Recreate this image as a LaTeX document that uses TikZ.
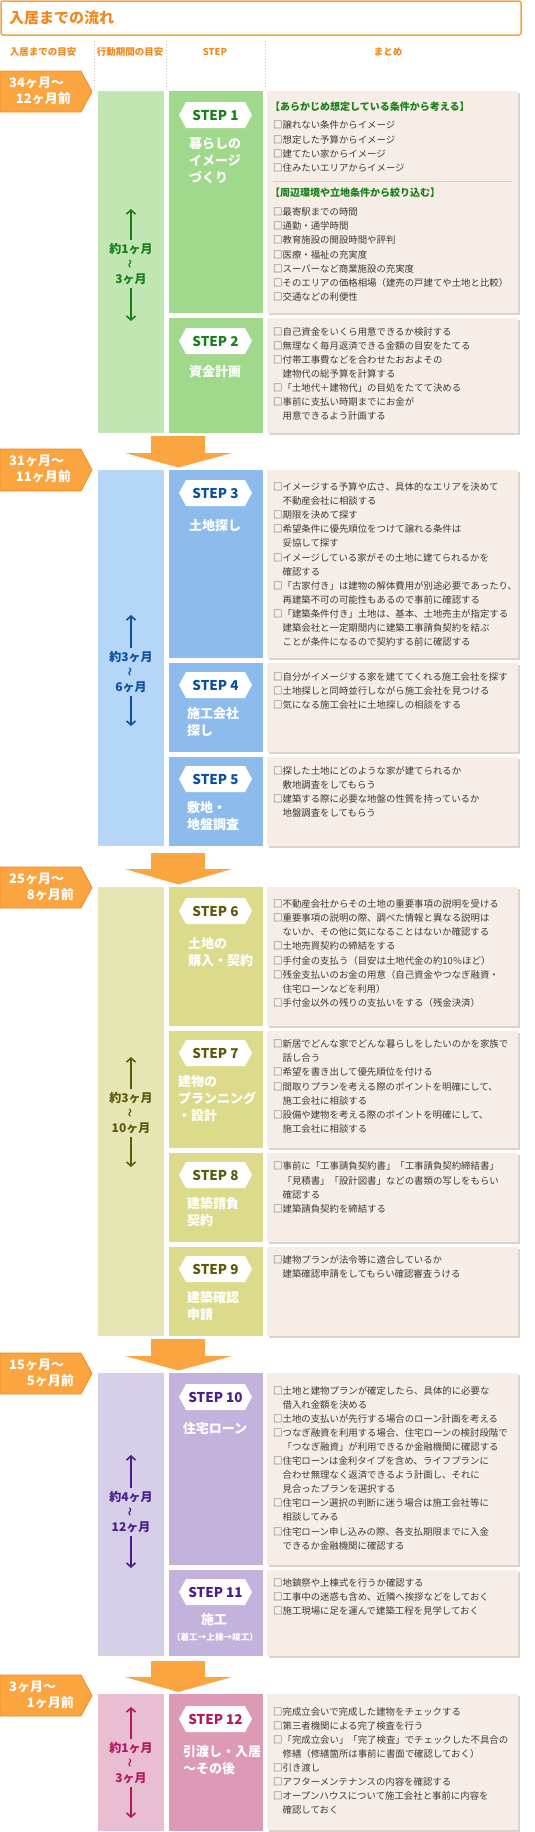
\documentclass[tikz,border=0pt]{standalone}
\usepackage{fontspec}
\setmainfont{Noto Sans CJK JP}
\usetikzlibrary{arrows.meta}

\definecolor{hdorange}{HTML}{F08A1C}
\definecolor{hdframe}{HTML}{F7A541}
\definecolor{tagorange}{HTML}{FBA540}
\definecolor{tagedge}{HTML}{F28A1F}
\definecolor{sumbg}{HTML}{F6EEE6}
\definecolor{sumshade}{HTML}{DCD4CB}
\definecolor{sumtext}{HTML}{3A3A3A}
\definecolor{sepgray}{HTML}{D8CFC5}
\definecolor{grper}{HTML}{C1E6B4}
\definecolor{grstep}{HTML}{A0D88C}
\definecolor{grtext}{HTML}{17801A}
\definecolor{blper}{HTML}{B5D6F7}
\definecolor{blstep}{HTML}{8DBCEC}
\definecolor{bltext}{HTML}{0C4EA2}
\definecolor{olper}{HTML}{E6E6B4}
\definecolor{olstep}{HTML}{DCDB8C}
\definecolor{oltext}{HTML}{5E5A0C}
\definecolor{puper}{HTML}{D7CEE7}
\definecolor{pustep}{HTML}{C3B3DC}
\definecolor{putext}{HTML}{4A1D8C}
\definecolor{piper}{HTML}{E9BED2}
\definecolor{pistep}{HTML}{DD9AB6}
\definecolor{pitext}{HTML}{B2185F}

\tikzset{
  ttlhead/.style={text=hdorange, font=\fontsize{15}{15}\selectfont\bfseries, anchor=west, inner sep=0pt},
  colhead/.style={text=hdorange, font=\fontsize{9.5}{9.5}\selectfont\bfseries, inner sep=0pt},
  tagbox/.style={fill=tagorange, draw=tagedge, line width=0.8pt},
  tagtxt/.style={text=white, font=\fontsize{13}{13}\selectfont\bfseries, inner sep=0pt},
  bigarrow/.style={fill=tagorange},
  badgetxt/.style={font=\fontsize{13.5}{13.5}\selectfont\bfseries, inner sep=0pt},
  steptitle/.style={text=white, font=\fontsize{13}{17}\selectfont\bfseries, align=left, inner sep=0pt},
  sumtxt/.style={text=sumtext, font=\fontsize{9.4}{14.1}\selectfont, align=left, anchor=west, inner sep=0pt},
  sumhead/.style={text=grtext, font=\fontsize{10}{10}\selectfont\bfseries, anchor=west, inner sep=0pt},
  periodtxt/.style={font=\fontsize{12}{15}\selectfont\bfseries, align=center, inner sep=3pt},
  parrow/.style={line width=1.6pt, -{Straight Barb[length=4pt,width=9pt]}},
}

\newcommand\indt{\phantom{□}}
\newcommand\waveglyph{{\fontsize{9}{9}\selectfont\rotatebox{90}{〜}}}
% white hexagon with STEP label: #1 name, #2 centre y, #3 text, #4 colour
\newcommand\stepbadge[4]{%
  \fill[white] (179,#2) -- (186,#2-13) -- (245,#2-13) -- (252,#2) -- (245,#2+13) -- (186,#2+13) -- cycle;
  \node[badgetxt, text=#4] (#1) at (215.5,#2) {#3};}

\begin{document}
\begin{tikzpicture}[x=1pt,y=-1pt]
\useasboundingbox (0,0) rectangle (535,1832);

% title and column heads
\draw[hdframe, line width=1.5pt, rounded corners=2pt, fill=white] (1,1) rectangle (521,35);
\node[ttlhead] (title) at (9,18) {入居までの流れ};
\node[colhead] (hmove) at (43,52) {入居までの目安};
\node[colhead] (hperiod) at (130,52) {行動期間の目安};
\node[colhead] (hstep) at (215,52) {STEP};
\node[colhead] (hsum) at (388,52) {まとめ};
\draw[gray!45, dotted, line width=1pt] (94,41) -- (94,90);
\draw[gray!45, dotted, line width=1pt] (166,41) -- (166,90);
\draw[gray!45, dotted, line width=1pt] (265,41) -- (265,90);

% ---------- phase 1 ----------
\filldraw[tagbox] (0,71) -- (81,71) -- (92,91.5) -- (81,112) -- (0,112) -- cycle;
\node[tagtxt, anchor=west] (tag1a) at (9,83) {34ヶ月〜};
\node[tagtxt, anchor=east] (tag1b) at (71,99) {12ヶ月前};
\fill[grper] (98,91) rectangle (164,433);
\node[periodtxt, text=grtext] (per1) at (131,264) {約1ヶ月\\\waveglyph\\3ヶ月};
\coordinate (per1top) at (131,209);
\coordinate (per1bot) at (131,321);
\draw[parrow, grtext] (per1) -- (per1top);
\draw[parrow, grtext] (per1) -- (per1bot);

\fill[grstep] (169,91) rectangle (263,313);
\stepbadge{st1}{115}{STEP 1}{grtext}
\node[steptitle, anchor=west] (ttl1) at (189,160.5) {暮らしの\\イメージ\\づくり};
\fill[sumshade] (268.5,92.5) rectangle (519.5,314.5);
\fill[sumbg] (267,91) rectangle (518,313);
\node[sumhead] (hd1a) at (270,107) {【あらかじめ想定している条件から考える】};
\node[sumtxt] (sum1a) at (273,146.5) {□譲れない条件からイメージ\\□想定した予算からイメージ\\□建てたい家からイメージ\\□住みたいエリアからイメージ};
\draw[sepgray, line width=0.8pt] (273,181) -- (512,181);
\node[sumhead] (hd1b) at (270,193) {【周辺環境や立地条件から絞り込む】};
\node[sumtxt] (sum1b) at (273,254.5) {□最寄駅までの時間\\□通勤・通学時間\\□教育施設の開設時間や評判\\□医療・福祉の充実度\\□スーパーなど商業施設の充実度\\□そのエリアの価格相場（建売の戸建てや土地と比較）\\□交通などの利便性};

\fill[grstep] (169,318) rectangle (263,433);
\stepbadge{st2}{341}{STEP 2}{grtext}
\node[steptitle] (ttl2) at (215,372) {資金計画};
\fill[sumshade] (268.5,319.5) rectangle (519.5,434.5);
\fill[sumbg] (267,318) rectangle (518,433);
\node[sumtxt] (sum2) at (273,374) {□自己資金をいくら用意できるか検討する\\□無理なく毎月返済できる金額の目安をたてる\\□付帯工事費などを合わせたおおよその\\\indt 建物代の総予算を計算する\\□「土地代＋建物代」の目処をたてて決める\\□事前に支払い時期までにお金が\\\indt 用意できるよう計画する};

\fill[bigarrow] (151,436) -- (205,436) -- (205,453) -- (232,453) -- (178.5,467.5) -- (125,453) -- (151,453) -- cycle;

% ---------- phase 2 ----------
\filldraw[tagbox] (0,449) -- (81,449) -- (92,470) -- (81,491) -- (0,491) -- cycle;
\node[tagtxt, anchor=west] (tag2a) at (9,461) {31ヶ月〜};
\node[tagtxt, anchor=east] (tag2b) at (71,477) {11ヶ月前};
\fill[blper] (98,470) rectangle (164,846);
\node[periodtxt, text=bltext] (per2) at (131,672) {約3ヶ月\\\waveglyph\\6ヶ月};
\coordinate (per2top) at (131,615);
\coordinate (per2bot) at (131,726);
\draw[parrow, bltext] (per2) -- (per2top);
\draw[parrow, bltext] (per2) -- (per2bot);

\fill[blstep] (169,470) rectangle (263,658);
\stepbadge{st3}{493}{STEP 3}{bltext}
\node[steptitle] (ttl3) at (215,526) {土地探し};
\fill[sumshade] (268.5,471.5) rectangle (519.5,659.5);
\fill[sumbg] (267,470) rectangle (518,658);
\node[sumtxt] (sum3) at (273,564.5) {□イメージする予算や広さ、具体的なエリアを決めて\\\indt 不動産会社に相談する\\□期限を決めて探す\\□希望条件に優先順位をつけて譲れる条件は\\\indt 妥協して探す\\□イメージしている家がその土地に建てられるかを\\\indt 確認する\\□「古家付き」は建物の解体費用が別途必要であったり、\\\indt 再建築不可の可能性もあるので事前に確認する\\□「建築条件付き」土地は、基本、土地売主が指定する\\\indt 建築会社と一定期間内に建築工事請負契約を結ぶ\\\indt ことが条件になるので契約する前に確認する};

\fill[blstep] (169,663) rectangle (263,752);
\stepbadge{st4}{685}{STEP 4}{bltext}
\node[steptitle, anchor=west] (ttl4) at (187,722.5) {施工会社\\探し};
\fill[sumshade] (268.5,664.5) rectangle (519.5,753.5);
\fill[sumbg] (267,663) rectangle (518,752);
\node[sumtxt] (sum4) at (273,691) {□自分がイメージする家を建ててくれる施工会社を探す\\□土地探しと同時並行しながら施工会社を見つける\\□気になる施工会社に土地探しの相談をする};

\fill[blstep] (169,757) rectangle (263,846);
\stepbadge{st5}{779}{STEP 5}{bltext}
\node[steptitle, anchor=west] (ttl5) at (187,816) {敷地・\\地盤調査};
\fill[sumshade] (268.5,758.5) rectangle (519.5,847.5);
\fill[sumbg] (267,757) rectangle (518,846);
\node[sumtxt] (sum5) at (273,792) {□探した土地にどのような家が建てられるか\\\indt 敷地調査をしてもらう\\□建築する際に必要な地盤の性質を持っているか\\\indt 地盤調査をしてもらう};

\fill[bigarrow] (151,853) -- (205,853) -- (205,869) -- (232,869) -- (178.5,884.5) -- (125,869) -- (151,869) -- cycle;

% ---------- phase 3 ----------
\filldraw[tagbox] (0,867) -- (81,867) -- (92,887.5) -- (81,908) -- (0,908) -- cycle;
\node[tagtxt, anchor=west] (tag3a) at (9,879) {25ヶ月〜};
\node[tagtxt, anchor=east] (tag3b) at (74,895) {8ヶ月前};
\fill[olper] (98,887) rectangle (164,1336);
\node[periodtxt, text=oltext] (per3) at (131,1113) {約3ヶ月\\\waveglyph\\10ヶ月};
\coordinate (per3top) at (131,1057);
\coordinate (per3bot) at (131,1167);
\draw[parrow, oltext] (per3) -- (per3top);
\draw[parrow, oltext] (per3) -- (per3bot);

\fill[olstep] (169,887) rectangle (263,1026);
\stepbadge{st6}{911}{STEP 6}{oltext}
\node[steptitle, anchor=west] (ttl6) at (188,952.5) {土地の\\購入・契約};
\fill[sumshade] (268.5,888.5) rectangle (519.5,1027.5);
\fill[sumbg] (267,887) rectangle (518,1026);
\node[sumtxt] (sum6) at (273,953.5) {□不動産会社からその土地の重要事項の説明を受ける\\□重要事項の説明の際、調べた情報と異なる説明は\\\indt ないか、その他に気になることはないか確認する\\□土地売買契約の締結をする\\□手付金の支払う（目安は土地代金の約10％ほど）\\□残金支払いのお金の用意（自己資金やつなぎ融資・\\\indt 住宅ローンなどを利用）\\□手付金以外の残りの支払いをする（残金決済）};

\fill[olstep] (169,1031) rectangle (263,1148);
\stepbadge{st7}{1053}{STEP 7}{oltext}
\node[steptitle, anchor=west] (ttl7) at (178,1098.5) {建物の\\プランニング\\・設計};
\fill[sumshade] (268.5,1032.5) rectangle (519.5,1149.5);
\fill[sumbg] (267,1031) rectangle (518,1148);
\node[sumtxt] (sum7) at (273,1086.5) {□新居でどんな家でどんな暮らしをしたいのかを家族で\\\indt 話し合う\\□希望を書き出して優先順位を付ける\\□間取りプランを考える際のポイントを明確にして、\\\indt 施工会社に相談する\\□設備や建物を考える際のポイントを明確にして、\\\indt 施工会社に相談する};

\fill[olstep] (169,1153) rectangle (263,1242);
\stepbadge{st8}{1175}{STEP 8}{oltext}
\node[steptitle, anchor=west] (ttl8) at (187,1211.5) {建築請負\\契約};
\fill[sumshade] (268.5,1154.5) rectangle (519.5,1243.5);
\fill[sumbg] (267,1153) rectangle (518,1242);
\node[sumtxt] (sum8) at (273,1187.5) {□事前に「工事請負契約書」「工事請負契約締結書」\\\indt 「見積書」「設計図書」などの書類の写しをもらい\\\indt 確認する\\□建築請負契約を締結する};

\fill[olstep] (169,1247) rectangle (263,1336);
\stepbadge{st9}{1269}{STEP 9}{oltext}
\node[steptitle, anchor=west] (ttl9) at (187,1306) {建築確認\\申請};
\fill[sumshade] (268.5,1248.5) rectangle (519.5,1337.5);
\fill[sumbg] (267,1247) rectangle (518,1336);
\node[sumtxt] (sum9) at (273,1267) {□建物プランが法令等に適合しているか\\\indt 建築確認申請をしてもらい確認審査うける};

\fill[bigarrow] (151,1339) -- (205,1339) -- (205,1356) -- (232,1356) -- (178.5,1370.5) -- (125,1356) -- (151,1356) -- cycle;

% ---------- phase 4 ----------
\filldraw[tagbox] (0,1353) -- (81,1353) -- (92,1373.5) -- (81,1394) -- (0,1394) -- cycle;
\node[tagtxt, anchor=west] (tag4a) at (9,1365) {15ヶ月〜};
\node[tagtxt, anchor=east] (tag4b) at (74,1381) {5ヶ月前};
\fill[puper] (98,1373) rectangle (164,1656);
\node[periodtxt, text=putext] (per4) at (131,1512) {約4ヶ月\\\waveglyph\\12ヶ月};
\coordinate (per4top) at (131,1455);
\coordinate (per4bot) at (131,1568);
\draw[parrow, putext] (per4) -- (per4top);
\draw[parrow, putext] (per4) -- (per4bot);

\fill[pustep] (169,1373) rectangle (263,1565);
\stepbadge{st10}{1397}{STEP 10}{putext}
\node[steptitle] (ttl10) at (215,1429) {住宅ローン};
\fill[sumshade] (268.5,1374.5) rectangle (519.5,1566.5);
\fill[sumbg] (267,1373) rectangle (518,1565);
\node[sumtxt] (sum10) at (273,1468) {□土地と建物プランが確定したら、具体的に必要な\\\indt 借入れ金額を決める\\□土地の支払いが先行する場合のローン計画を考える\\□つなぎ融資を利用する場合、住宅ローンの検討段階で\\\indt 「つなぎ融資」が利用できるか金融機関に確認する\\□住宅ローンは金利タイプを含め、ライフプランに\\\indt 合わせ無理なく返済できるよう計画し、それに\\\indt 見合ったプランを選択する\\□住宅ローン選択の判断に迷う場合は施工会社等に\\\indt 相談してみる\\□住宅ローン申し込みの際、各支払期限までに入金\\\indt できるか金融機関に確認する};

\fill[pustep] (169,1570) rectangle (263,1656);
\stepbadge{st11}{1592}{STEP 11}{putext}
\node[steptitle] (ttl11) at (214,1620) {施工};
\node[text=white, font=\fontsize{8.6}{8.6}\selectfont\bfseries, inner sep=0pt] (ttl11b) at (215,1637) {（着工→上棟→竣工）};
\fill[sumshade] (268.5,1571.5) rectangle (519.5,1657.5);
\fill[sumbg] (267,1570) rectangle (518,1656);
\node[sumtxt] (sum11) at (273,1597) {□地鎮祭や上棟式を行うか確認する\\□工事中の迷惑も含め、近隣へ挨拶などをしておく\\□施工現場に足を運んで建築工程を見学しておく};

\fill[bigarrow] (151,1661) -- (205,1661) -- (205,1677) -- (232,1677) -- (178.5,1692) -- (125,1677) -- (151,1677) -- cycle;

% ---------- phase 5 ----------
\filldraw[tagbox] (0,1675) -- (81,1675) -- (92,1695.5) -- (81,1716) -- (0,1716) -- cycle;
\node[tagtxt, anchor=west] (tag5a) at (9,1687) {3ヶ月〜};
\node[tagtxt, anchor=east] (tag5b) at (74,1703) {1ヶ月前};
\fill[piper] (98,1694) rectangle (164,1831);
\node[periodtxt, text=pitext] (per5) at (131,1763) {約1ヶ月\\\waveglyph\\3ヶ月};
\coordinate (per5top) at (131,1707);
\coordinate (per5bot) at (131,1818);
\draw[parrow, pitext] (per5) -- (per5top);
\draw[parrow, pitext] (per5) -- (per5bot);

\fill[pistep] (169,1694) rectangle (263,1831);
\stepbadge{st12}{1719}{STEP 12}{pitext}
\node[steptitle, anchor=west] (ttl12) at (183,1760) {引渡し・入居\\〜その後};
\fill[sumshade] (268.5,1695.5) rectangle (519.5,1831.5);
\fill[sumbg] (267,1694) rectangle (518,1830);
\node[sumtxt] (sum12) at (273,1761) {□完成立会いで完成した建物をチェックする\\□第三者機関による完了検査を行う\\□「完成立会い」「完了検査」でチェックした不具合の\\\indt 修繕（修繕箇所は事前に書面で確認しておく）\\□引き渡し\\□アフターメンテナンスの内容を確認する\\□オープンハウスについて施工会社と事前に内容を\\\indt 確認しておく};
\end{tikzpicture}
\end{document}
